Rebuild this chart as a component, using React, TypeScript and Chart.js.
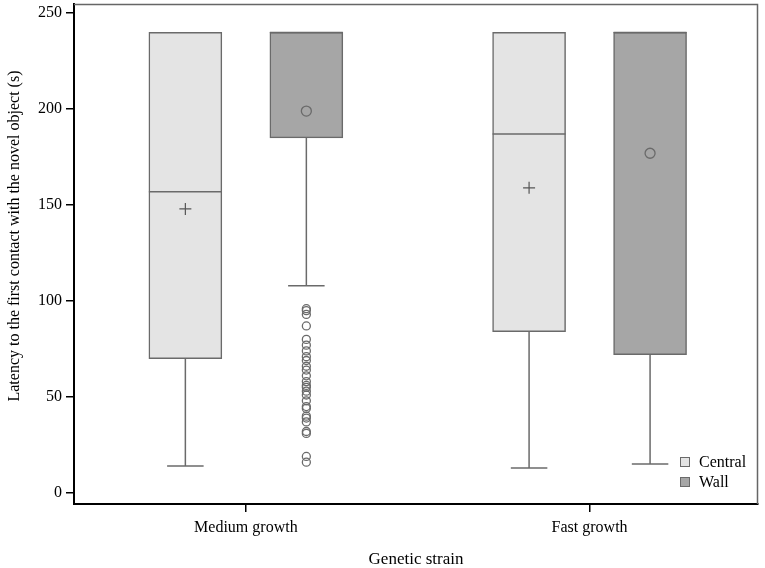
import { useEffect, useRef } from 'react';
import { Chart, registerables } from 'chart.js';

Chart.register(...registerables);

// ---- data ----
const categories = ['Medium growth', 'Fast growth'];
const yTicks = [0, 50, 100, 150, 200, 250];
const seriesNames = ['Central', 'Wall'];

const centralMin = [14, 13];
const centralQ1 = [70, 84];
const centralMedian = [157, 187];
const centralQ3 = [240, 240];
const centralMax = [240, 240];
const centralMean = [148, 159];

const wallMin = [108, 15];
const wallQ1 = [185, 72];
const wallMedian = [240, 240];
const wallQ3 = [240, 240];
const wallMax = [240, 240];
const wallMean = [199, 177];

const wallOutliersMedium = [96, 95, 93, 87, 80, 77, 74, 71, 69, 66, 64, 61, 58, 56, 55, 53, 51, 48, 45, 44, 40, 39, 37, 32, 31, 19, 16];
const wallOutliersFast: number[] = [];

// ---- styles ----
const FONT = "'Liberation Serif', 'Times New Roman', serif";
const EDGE = '#6a6a6a';
const CENTRAL_FILL = '#e4e4e4';
const WALL_FILL = '#a6a6a6';
const OFFSET = 0.176;

const centralX = categories.map((_, i) => i + 1 - OFFSET);
const wallX = categories.map((_, i) => i + 1 + OFFSET);

const boxStats = [
  { min: centralMin, q1: centralQ1, med: centralMedian, q3: centralQ3, max: centralMax },
  { min: wallMin, q1: wallQ1, med: wallMedian, q3: wallQ3, max: wallMax },
];

const boxExtras = {
  id: 'boxExtras',
  afterDatasetsDraw(chart: any) {
    const { ctx, scales } = chart;
    const y = scales.y;
    ctx.save();
    ctx.strokeStyle = EDGE;
    ctx.lineWidth = 1.5;
    boxStats.forEach((s, di) => {
      const meta = chart.getDatasetMeta(di);
      meta.data.forEach((el: any, i: number) => {
        const cx = el.x;
        const half = el.width / 2;
        const line = (x1: number, y1: number, x2: number, y2: number) => {
          ctx.beginPath();
          ctx.moveTo(x1, y1);
          ctx.lineTo(x2, y2);
          ctx.stroke();
        };
        const pm = y.getPixelForValue(s.med[i]);
        line(cx - half, pm, cx + half, pm);
        const pq1 = y.getPixelForValue(s.q1[i]);
        const pmin = y.getPixelForValue(s.min[i]);
        if (s.min[i] < s.q1[i]) {
          line(cx, pq1, cx, pmin);
          line(cx - half / 2, pmin, cx + half / 2, pmin);
        }
        const pq3 = y.getPixelForValue(s.q3[i]);
        const pmax = y.getPixelForValue(s.max[i]);
        if (s.max[i] > s.q3[i]) {
          line(cx, pq3, cx, pmax);
          line(cx - half / 2, pmax, cx + half / 2, pmax);
        }
      });
    });
    ctx.restore();
  },
  afterDraw(chart: any) {
    const { ctx, chartArea } = chart;
    const { left, right, top, bottom } = chartArea;
    ctx.save();
    // top & right frame
    ctx.strokeStyle = '#666';
    ctx.lineWidth = 1.5;
    ctx.beginPath();
    ctx.moveTo(left, top + 0.5);
    ctx.lineTo(right - 0.5, top + 0.5);
    ctx.lineTo(right - 0.5, bottom);
    ctx.stroke();

    // y axis title
    ctx.fillStyle = '#000';
    ctx.font = `16px ${FONT}`;
    ctx.textAlign = 'center';
    ctx.textBaseline = 'middle';
    ctx.translate(15, (top + bottom) / 2 - 18);
    ctx.rotate(-Math.PI / 2);
    ctx.fillText('Latency to the first contact with the novel object (s)', 0, 0);
    ctx.setTransform(1, 0, 0, 1, 0, 0);
    ctx.restore();

    // legend
    ctx.save();
    const fills = [CENTRAL_FILL, WALL_FILL];
    const lx = right - 78;
    const ly = bottom - 42;
    ctx.font = `16px ${FONT}`;
    ctx.textAlign = 'left';
    ctx.textBaseline = 'middle';
    seriesNames.forEach((name, i) => {
      const cy = ly + i * 20;
      ctx.fillStyle = fills[i];
      ctx.fillRect(lx, cy - 5, 10, 10);
      ctx.strokeStyle = EDGE;
      ctx.lineWidth = 1;
      ctx.strokeRect(lx + 0.5, cy - 4.5, 9, 9);
      ctx.fillStyle = '#000';
      ctx.fillText(name, lx + 19, cy + 1);
    });
    ctx.restore();
  },
};

export default function App() {
  const ref = useRef<HTMLCanvasElement | null>(null);

  useEffect(() => {
    document.body.style.margin = '0';
    if (!ref.current) return;
    const tickFont = { family: FONT, size: 16 };
    const chart = new Chart(ref.current, {
      type: 'bar',
      data: {
        datasets: [
          {
            type: 'bar',
            label: seriesNames[0],
            data: categories.map((_, i) => ({ x: centralX[i], y: [centralQ1[i], centralQ3[i]] })) as any,
            backgroundColor: CENTRAL_FILL,
            borderColor: EDGE,
            borderWidth: 1.5,
            borderSkipped: false,
            barThickness: 73,
            grouped: false,
            order: 2,
          },
          {
            type: 'bar',
            label: seriesNames[1],
            data: categories.map((_, i) => ({ x: wallX[i], y: [wallQ1[i], wallQ3[i]] })) as any,
            backgroundColor: WALL_FILL,
            borderColor: EDGE,
            borderWidth: 1.5,
            borderSkipped: false,
            barThickness: 73,
            grouped: false,
            order: 2,
          },
          {
            type: 'scatter',
            label: 'Central mean',
            data: categories.map((_, i) => ({ x: centralX[i], y: centralMean[i] })),
            pointStyle: 'cross',
            pointRadius: 6,
            pointBorderColor: '#555',
            pointBorderWidth: 1.2,
            order: 0,
          } as any,
          {
            type: 'scatter',
            label: 'Wall mean',
            data: categories.map((_, i) => ({ x: wallX[i], y: wallMean[i] })),
            pointStyle: 'circle',
            pointRadius: 5,
            pointBackgroundColor: 'rgba(0,0,0,0)',
            pointBorderColor: '#6a6a6a',
            pointBorderWidth: 1.3,
            order: 0,
          } as any,
          {
            type: 'scatter',
            label: 'Wall outliers',
            data: [
              ...wallOutliersMedium.map((v) => ({ x: wallX[0], y: v })),
              ...wallOutliersFast.map((v) => ({ x: wallX[1], y: v })),
            ],
            pointStyle: 'circle',
            pointRadius: 4,
            pointBackgroundColor: 'rgba(255,255,255,0)',
            pointBorderColor: '#6a6a6a',
            pointBorderWidth: 1.3,
            order: 0,
          } as any,
        ],
      },
      options: {
        responsive: false,
        animation: false,
        layout: { autoPadding: false, padding: { top: 4, right: 7, left: 0, bottom: 0 } },
        plugins: {
          legend: { display: false },
          tooltip: { enabled: false },
        },
        scales: {
          x: {
            type: 'linear',
            offset: false,
            min: 0.5,
            max: 2.49,
            afterBuildTicks: (s: any) => {
              s.ticks = categories.map((_, i) => ({ value: i + 1 }));
            },
            afterFit: (s: any) => {
              s.height = 64;
              s.paddingLeft = 0;
              s.paddingRight = 0;
            },
            ticks: {
              callback: (v: any) => categories[Math.round(v) - 1] ?? '',
              font: tickFont,
              color: '#000',
              padding: 6,
              autoSkip: false,
              maxRotation: 0,
            },
            grid: { offset: false, drawOnChartArea: false, drawTicks: true, tickLength: 8, color: '#000', lineWidth: 1.5 },
            border: { display: true, color: '#000', width: 2 },
            title: {
              display: true,
              text: 'Genetic strain',
              font: { family: FONT, size: 17, lineHeight: 1 },
              color: '#000',
              padding: { top: 0, bottom: 0 },
            },
          },
          y: {
            type: 'linear',
            min: -5.8,
            max: 254.8,
            afterBuildTicks: (s: any) => {
              s.ticks = yTicks.map((v) => ({ value: v }));
            },
            afterFit: (s: any) => {
              s.width = 74;
              s.paddingTop = 0;
              s.paddingBottom = 0;
            },
            ticks: { font: tickFont, color: '#000', padding: 4 },
            grid: { drawOnChartArea: false, drawTicks: true, tickLength: 8, color: '#000', lineWidth: 1.5 },
            border: { display: true, color: '#000', width: 2 },
          },
        },
      },
      plugins: [boxExtras],
    } as any);
    return () => chart.destroy();
  }, []);

  return (
    <div style={{ width: 765, height: 568, background: '#fff' }}>
      <canvas ref={ref} width={765} height={568} style={{ display: 'block' }} />
    </div>
  );
}
